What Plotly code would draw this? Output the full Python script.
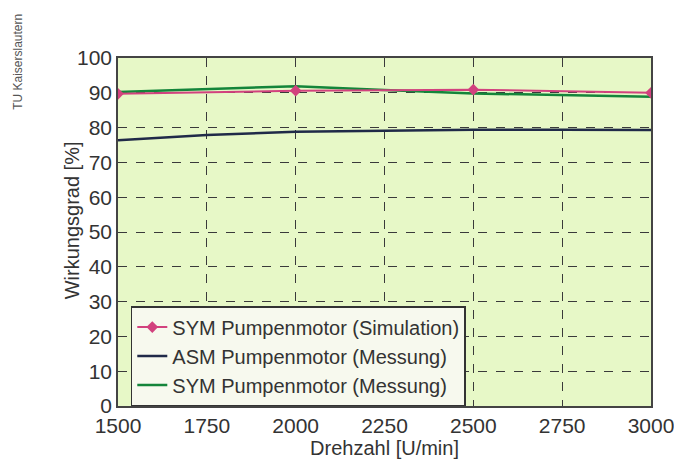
import plotly.graph_objects as go

drehzahl_sim = [1500, 2000, 2500, 3000]
sym_sim = [89.7, 90.6, 90.9, 90.0]

drehzahl_asm = [1500, 1750, 2000, 2250, 2500, 2750, 3000]
asm_mess = [76.4, 77.9, 78.8, 79.2, 79.4, 79.4, 79.3]

drehzahl_sym = [1500, 2000, 2250, 2500, 3000]
sym_mess = [90.2, 91.9, 90.8, 89.8, 88.9]

x_ticks = [1500, 1750, 2000, 2250, 2500, 2750, 3000]
y_ticks = [0, 10, 20, 30, 40, 50, 60, 70, 80, 90, 100]

fig = go.Figure()
fig.add_trace(go.Scatter(x=drehzahl_asm, y=asm_mess, mode="lines",
                         name="ASM Pumpenmotor (Messung)", legendrank=2,
                         line=dict(color="#202a48", width=2.5)))
fig.add_trace(go.Scatter(x=drehzahl_sym, y=sym_mess, mode="lines",
                         name="SYM Pumpenmotor (Messung)", legendrank=3,
                         line=dict(color="#14853a", width=2.5)))
fig.add_trace(go.Scatter(x=drehzahl_sim, y=sym_sim, mode="lines+markers",
                         name="SYM Pumpenmotor (Simulation)", legendrank=1,
                         line=dict(color="#d2427e", width=2),
                         marker=dict(symbol="diamond", size=9, color="#d2427e")))

fig.update_layout(
    width=674, height=459,
    margin=dict(l=118, r=23, t=58, b=53, autoexpand=False),
    paper_bgcolor="white",
    plot_bgcolor="#e7f8c7",
    font=dict(family="Liberation Sans, Arial, sans-serif", color="#333333"),
    legend=dict(x=0.024, y=0.287, xanchor="left", yanchor="top",
                bgcolor="#f7f9ee", bordercolor="#333333", borderwidth=1.5,
                font=dict(size=20, color="#333333"),
                tracegroupgap=0, itemwidth=30),
    showlegend=True,
)
fig.update_xaxes(range=[1500, 3000], tickvals=x_ticks, ticks="",
                 tickfont=dict(size=21), showgrid=True, gridcolor="#3a3a3a",
                 griddash="dash", gridwidth=1, showline=True, mirror=True,
                 linecolor="#444444", linewidth=1.5, zeroline=False,
                 ticklabeloverflow="allow",
                 title=dict(text="Drehzahl [U/min]", font=dict(size=20), standoff=4))
fig.update_yaxes(range=[0, 100], tickvals=y_ticks, ticks="",
                 tickfont=dict(size=21), showgrid=True, gridcolor="#3a3a3a",
                 griddash="dash", gridwidth=1, showline=True, mirror=True,
                 linecolor="#444444", linewidth=1.5, zeroline=False)

fig.add_annotation(text="Wirkungsgrad [%]", textangle=-90, xref="paper", yref="paper",
                   x=-0.086, y=0.534, xanchor="center", yanchor="middle",
                   showarrow=False, font=dict(size=20, color="#333333"))
fig.add_annotation(text="TU Kaiserslautern", textangle=-90, xref="paper", yref="paper",
                   x=-0.188, y=1.132, xanchor="center", yanchor="top",
                   showarrow=False, font=dict(size=12, color="#555555"))

fig.write_html("out.html", config={"displayModeBar": False},
               post_script="document.body.style.margin='0';document.body.style.overflow='hidden';")
